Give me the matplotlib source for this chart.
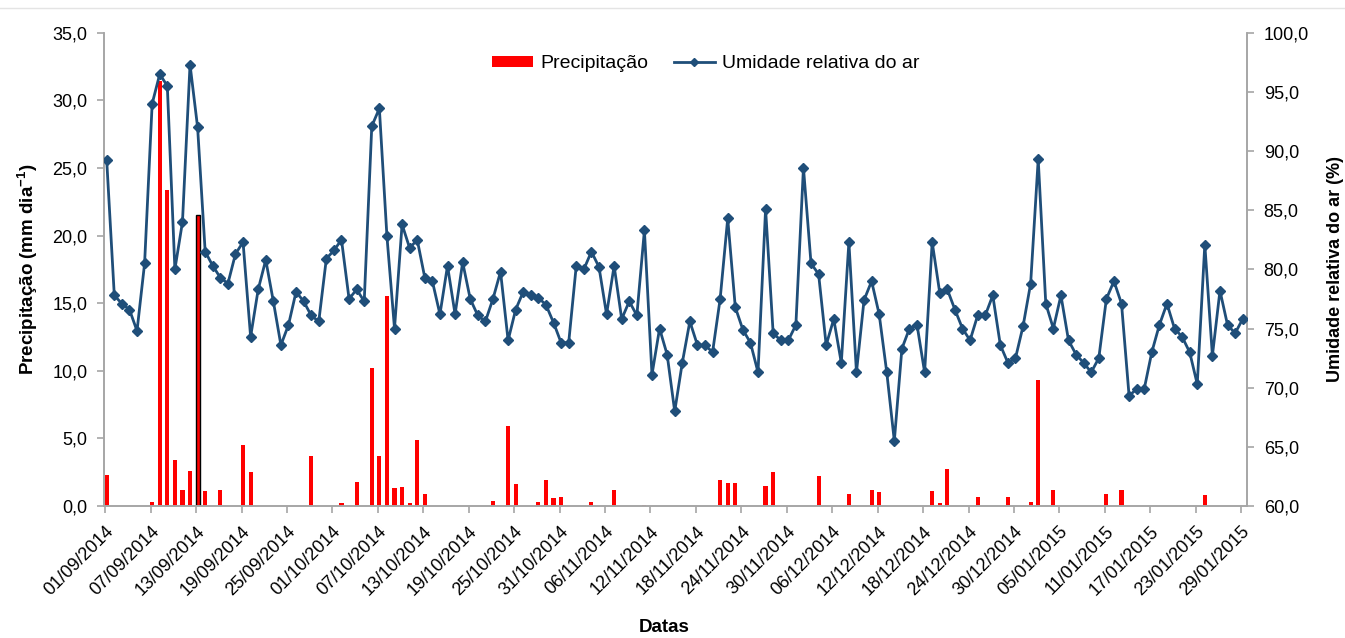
import matplotlib
matplotlib.use("Agg")
import matplotlib.pyplot as plt
import numpy as np
import pandas as pd
from matplotlib.lines import Line2D

plt.rcParams['font.family'] = ['Liberation Sans', 'DejaVu Sans']
plt.rcParams['mathtext.fontset'] = 'custom'
plt.rcParams['mathtext.rm'] = 'Liberation Sans'
plt.rcParams['mathtext.bf'] = 'Liberation Sans:bold'

# daily data, 01/09/2014 .. 29/01/2015
dates = pd.date_range('2014-09-01', '2015-01-29', freq='D')

precip = [
    2.3, 0, 0, 0, 0, 0, 0.3, 31.4, 23.4, 3.4,
    1.2, 2.6, 21.5, 1.1, 0, 1.2, 0, 0, 4.5, 2.5,
    0, 0, 0, 0, 0, 0, 0, 3.7, 0, 0,
    0, 0.2, 0, 1.8, 0, 10.2, 3.7, 15.5, 1.3, 1.4,
    0.2, 4.9, 0.9, 0, 0, 0, 0, 0, 0, 0,
    0, 0.4, 0, 5.9, 1.6, 0, 0, 0.3, 1.9, 0.6,
    0.7, 0, 0, 0, 0.3, 0, 0, 1.2, 0, 0,
    0, 0.1, 0, 0, 0, 0, 0, 0, 0, 0,
    0, 1.9, 1.7, 1.7, 0, 0, 0, 1.5, 2.5, 0,
    0, 0, 0, 0, 2.2, 0, 0, 0, 0.9, 0,
    0, 1.2, 1.0, 0, 0, 0, 0, 0, 0, 1.1,
    0.2, 2.7, 0, 0, 0, 0.7, 0, 0, 0, 0.7,
    0, 0, 0.3, 9.3, 0, 1.2, 0, 0, 0, 0,
    0, 0, 0.9, 0, 1.2, 0, 0, 0, 0, 0,
    0, 0, 0, 0, 0, 0.8, 0, 0, 0, 0,
    0,
]

umidade = [
    89.2, 77.8, 77.1, 76.6, 74.8, 80.5, 94.0, 96.5, 95.5, 80.0,
    84.0, 97.3, 92.0, 81.5, 80.3, 79.3, 78.8, 81.3, 82.3, 74.3,
    78.3, 80.8, 77.3, 73.6, 75.3, 78.1, 77.3, 76.1, 75.6, 80.9,
    81.6, 82.5, 77.5, 78.3, 77.3, 92.1, 93.6, 82.8, 75.0, 83.8,
    81.8, 82.5, 79.3, 79.0, 76.2, 80.3, 76.2, 80.6, 77.5, 76.1,
    75.6, 77.5, 79.8, 74.0, 76.6, 78.1, 77.8, 77.6, 77.0, 75.5,
    73.8, 73.8, 80.3, 80.0, 81.5, 80.2, 76.2, 80.3, 75.8, 77.3,
    76.1, 83.3, 71.1, 75.0, 72.8, 68.0, 72.1, 75.6, 73.6, 73.6,
    73.0, 77.5, 84.3, 76.8, 74.9, 73.8, 71.3, 85.1, 74.6, 74.0,
    74.0, 75.3, 88.6, 80.5, 79.6, 73.6, 75.8, 72.1, 82.3, 71.3,
    77.4, 79.0, 76.2, 71.3, 65.5, 73.3, 75.0, 75.3, 71.3, 82.3,
    78.0, 78.3, 76.6, 75.0, 74.0, 76.1, 76.1, 77.8, 73.6, 72.1,
    72.5, 75.2, 78.8, 89.3, 77.1, 75.0, 77.8, 74.0, 72.8, 72.1,
    71.3, 72.5, 77.5, 79.0, 77.1, 69.3, 69.9, 69.9, 73.0, 75.3,
    77.1, 75.0, 74.3, 73.0, 70.3, 82.1, 72.7, 78.2, 75.3, 74.6,
    75.8,
]

x = np.arange(len(dates))
gray = '#a6a6a6'
blue = '#1f4e79'

fig = plt.figure(figsize=(13.45, 6.38), dpi=100)
ax = fig.add_axes([104 / 1345, 1 - 506 / 638, (1247 - 104) / 1345, (506 - 32.7) / 638])
ax2 = ax.twinx()

edges = ['black' if i == 12 else 'none' for i in range(len(x))]
bars = ax.bar(x, precip, width=0.55, color='#ff0000', edgecolor=edges, linewidth=1.0,
              label='Precipitação', zorder=2)
line, = ax2.plot(x, umidade, color=blue, linewidth=2, marker='D', markersize=5.5,
                 label='Umidade relativa do ar', zorder=3)

ax.set_xlim(-0.36, 150.57)
ax.set_ylim(0, 35)
ax2.set_ylim(60, 100)
ax.set_yticks(np.arange(0, 35.1, 5))
ax2.set_yticks(np.arange(60, 100.1, 5))
fmt = lambda v, p: ('%.1f' % v).replace('.', ',')
ax.yaxis.set_major_formatter(plt.FuncFormatter(fmt))
ax2.yaxis.set_major_formatter(plt.FuncFormatter(fmt))

tick_idx = x[::6]
ax.set_xticks(tick_idx - 0.2)
ax.set_xticklabels([dates[i].strftime('%d/%m/%Y') for i in tick_idx],
                   rotation=45, ha='right', rotation_mode='anchor', fontsize=13)

for a in (ax, ax2):
    a.spines['top'].set_visible(False)
    for s in ('left', 'right', 'bottom'):
        a.spines[s].set_color(gray)
        a.spines[s].set_linewidth(1.2)
    a.tick_params(axis='both', colors=gray, labelcolor='black',
                  length=5, width=1.2, pad=7)
    a.tick_params(axis='y', labelsize=13)

ax.set_ylabel('Precipitação (mm dia$^{\\mathbf{-1}}$)', fontsize=13.5, fontweight='bold', labelpad=9)
ax2.set_ylabel('Umidade relativa do ar (%)', fontsize=13, fontweight='bold', labelpad=13)
ax.set_xlabel('Datas', fontsize=13.5, fontweight='bold')
ax.xaxis.set_label_coords(0.49, -0.238)

leg_line = Line2D([], [], color=blue, linewidth=2, marker='D', markersize=4)
fig.legend([bars, leg_line], ['Precipitação', 'Umidade relativa do ar'],
           loc='upper center', bbox_to_anchor=(706 / 1345, 1 - 38 / 638), ncol=2,
           frameon=False, fontsize=14, handlelength=2.1, handleheight=0.5,
           columnspacing=1.3, handletextpad=0.4)

fig.add_artist(Line2D([0, 1], [1 - 8 / 638, 1 - 8 / 638], color='#e4e4e4', linewidth=1))

fig.savefig('out.png', dpi=100)
